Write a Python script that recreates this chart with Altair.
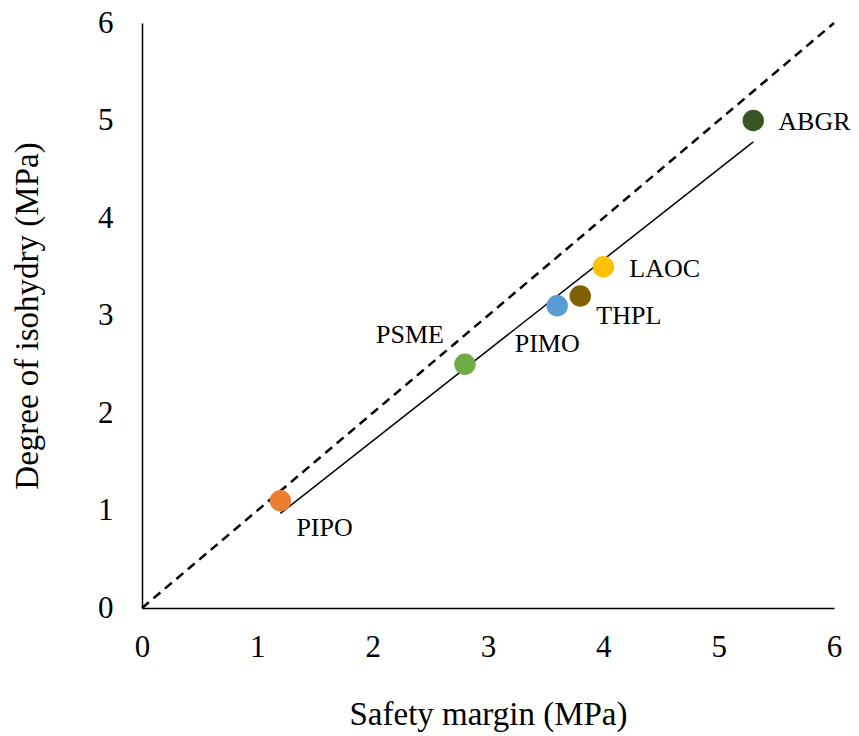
import altair as alt
import pandas as pd

# Data
species = ["PIPO", "PSME", "PIMO", "THPL", "LAOC", "ABGR"]
safety_margin = [1.2, 2.8, 3.6, 3.8, 4.0, 5.3]
isohydry = [1.1, 2.5, 3.1, 3.2, 3.5, 5.0]
colors = ["#ED7D31", "#70AD47", "#5B9BD5", "#7F6000", "#FFC000", "#375623"]

one_to_one_x = [0, 6]
one_to_one_y = [0, 6]
fit_x = [1.2, 5.3]
fit_y = [0.97, 4.78]

ticks = [0, 1, 2, 3, 4, 5, 6]

# label placement (style)
label_align = ["left", "right", "center", "left", "left", "left"]
label_dx = [16, -21, -10, 16, 26, 25]
label_dy = [27, -29, 38, 20, 2, 1]

FONT = "Liberation Serif"

pts = pd.DataFrame({"species": species, "x": safety_margin, "y": isohydry})
line11 = pd.DataFrame({"x": one_to_one_x, "y": one_to_one_y})
fit = pd.DataFrame({"x": fit_x, "y": fit_y})

xscale = alt.Scale(domain=[0, 6], nice=False, zero=True)
yscale = alt.Scale(domain=[0, 6], nice=False, zero=True)

xenc = alt.X("x:Q", scale=xscale, axis=alt.Axis(
    title="Safety margin (MPa)", values=ticks, format="d", labelPadding=24,
    titlePadding=36))
yenc = alt.Y("y:Q", scale=yscale, axis=alt.Axis(
    title="Degree of isohydry (MPa)", values=ticks, format="d", labelPadding=29,
    titlePadding=53))

dashed = alt.Chart(line11).mark_line(color="black", strokeWidth=2.5, strokeDash=[9, 6]).encode(
    x=xenc, y=yenc)
solid = alt.Chart(fit).mark_line(color="black", strokeWidth=1.5).encode(x="x:Q", y="y:Q")
points = alt.Chart(pts).mark_circle(size=460, opacity=1).encode(
    x="x:Q", y="y:Q",
    color=alt.Color("species:N", scale=alt.Scale(domain=species, range=colors), legend=None))

labels = []
for sp, al, dx, dy in zip(species, label_align, label_dx, label_dy):
    labels.append(
        alt.Chart(pts).transform_filter(alt.datum.species == sp).mark_text(
            font=FONT, fontSize=26, color="black", align=al, baseline="middle", dx=dx, dy=dy
        ).encode(x="x:Q", y="y:Q", text="species:N")
    )

chart = alt.layer(dashed, solid, points, *labels).properties(
    width=692, height=585,
    autosize=alt.AutoSizeParams(type="none"),
    padding={"left": 142, "top": 23, "right": 25, "bottom": 128},
    background="white",
).configure_view(stroke=None).configure_axis(
    grid=False, ticks=False, domainColor="black", domainWidth=1.5,
    labelFont=FONT, labelFontSize=31, labelColor="black", labelFlush=False,
    titleFont=FONT, titleFontSize=33, titleFontWeight="normal", titleColor="black",
)

chart.save("out.html", embed_options={"renderer": "svg", "actions": False})
